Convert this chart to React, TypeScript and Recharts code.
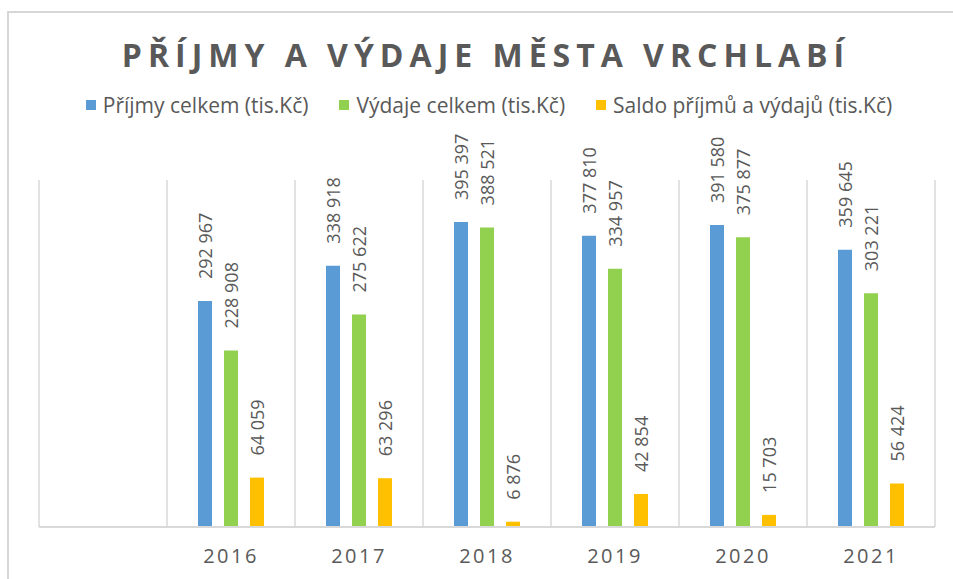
import React from 'react';
import { BarChart, Bar, XAxis, YAxis, CartesianGrid, LabelList } from 'recharts';

// categories (first slot is empty, as in the source sheet)
const years = ['', '2016', '2017', '2018', '2019', '2020', '2021'];

// values in tis. Kč
const prijmy = [null, 292967, 338918, 395397, 377810, 391580, 359645];
const vydaje = [null, 228908, 275622, 388521, 334957, 375877, 303221];
const saldo = [null, 64059, 63296, 6876, 42854, 15703, 56424];

const seriesNames = ['Příjmy celkem (tis.Kč)', 'Výdaje celkem (tis.Kč)', 'Saldo příjmů a výdajů (tis.Kč)'];
const seriesColors = ['#5B9BD5', '#92D050', '#FFC000'];

const data = years.map((year, i) => ({
  year,
  prijmy: prijmy[i],
  vydaje: vydaje[i],
  saldo: saldo[i],
}));

const seriesKeys = ['prijmy', 'vydaje', 'saldo'];

const FONT = '"Open Sans", "DejaVu Sans", sans-serif';
const TEXT = '#595959';

const MARGIN = { top: 180, right: 18, bottom: 0, left: 39 };

const fmt = (v: number) => String(v).replace(/\B(?=(\d{3})+(?!\d))/g, ' ');

// rotated value label sitting above the bar
const VLabel = (props: any) => {
  const { x, y, width, value } = props;
  if (value == null) return null;
  const cx = Number(x) + Number(width) / 2;
  const ty = Number(y) - 22;
  return (
    <text
      x={cx}
      y={ty}
      transform={`rotate(-90 ${cx} ${ty})`}
      textAnchor="start"
      dominantBaseline="central"
      fill={TEXT}
      fontFamily={FONT}
      fontSize={18}
    >
      {fmt(value)}
    </text>
  );
};

const YearTick = (props: any) => {
  const { x, y, payload } = props;
  return (
    <text
      x={x}
      y={y}
      textAnchor="middle"
      fill={TEXT}
      fontFamily={FONT}
      fontSize={20}
      letterSpacing={2.5}
      dy={22}
    >
      {payload.value}
    </text>
  );
};

export default function App() {
  const W = 953;
  const H = 579;

  // gridlines sit on the category boundaries, not on the centres
  const boundaries = ({ offset }: any) => {
    const left = offset ? offset.left : MARGIN.left;
    const width = offset ? offset.width : W - MARGIN.left - MARGIN.right;
    return years.concat('').map((_, i) => left + (i * width) / years.length);
  };

  return (
    <div style={{ position: 'absolute', left: 0, top: 0, width: W, height: H, overflow: 'hidden', background: '#fff' }}>
      <div
        style={{
          position: 'absolute',
          left: 7,
          top: 11,
          width: 980,
          height: 620,
          border: '2px solid #d6d6d6',
        }}
      />
      <div
        style={{
          position: 'absolute',
          left: 0,
          top: 33,
          width: 972,
          textAlign: 'center',
          fontFamily: FONT,
          fontWeight: 700,
          fontSize: 32,
          letterSpacing: 6,
          color: TEXT,
          lineHeight: '44px',
          whiteSpace: 'nowrap',
        }}
      >
        PŘÍJMY A VÝDAJE MĚSTA VRCHLABÍ
      </div>
      <div
        style={{
          position: 'absolute',
          left: 0,
          top: 90,
          width: 978,
          display: 'flex',
          justifyContent: 'center',
          fontFamily: FONT,
          fontSize: 21,
          color: TEXT,
          lineHeight: '30px',
          whiteSpace: 'nowrap',
        }}
      >
        {seriesNames.map((name, i) => (
          <div key={name} style={{ display: 'flex', alignItems: 'center', marginLeft: i === 0 ? 0 : 31 }}>
            <span style={{ display: 'inline-block', width: 10, height: 10, background: seriesColors[i], marginRight: 7 }} />
            <span>{name}</span>
          </div>
        ))}
      </div>
      <div style={{ position: 'absolute', left: 0, top: 0 }}>
        <BarChart width={W} height={H} data={data} margin={MARGIN} barSize={14} barGap={12}>
          <CartesianGrid
            horizontal={false}
            stroke="#d9d9d9"
            strokeWidth={1.5}
            verticalCoordinatesGenerator={boundaries}
          />
          <XAxis
            dataKey="year"
            height={52}
            tickLine={false}
            tickSize={0}
            tickMargin={14}
            axisLine={{ stroke: '#d9d9d9', strokeWidth: 2 }}
            tick={<YearTick />}
            interval={0}
          />
          <YAxis hide domain={[0, 450000]} />
          {seriesKeys.map((key, i) => (
            <Bar key={key} dataKey={key} name={seriesNames[i]} fill={seriesColors[i]} isAnimationActive={false}>
              <LabelList dataKey={key} content={<VLabel />} />
            </Bar>
          ))}
        </BarChart>
      </div>
    </div>
  );
}
